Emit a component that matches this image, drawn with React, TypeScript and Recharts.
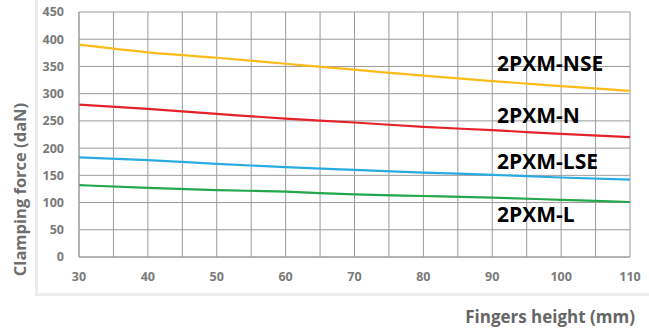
import React from 'react';
import { LineChart, Line, XAxis, YAxis, CartesianGrid, ReferenceDot, Label } from 'recharts';

const heights = [30, 40, 50, 60, 70, 80, 90, 100, 110];
const nse = [390, 376, 366, 355, 344, 333, 323, 314, 305];
const n = [280, 272, 263, 254, 247, 239, 233, 226, 220];
const lse = [183, 178, 171, 165, 160, 155, 151, 146, 142];
const l = [132, 127, 123, 120, 115, 112, 109, 105, 101];

const xTicks = [30, 40, 50, 60, 70, 80, 90, 100, 110];
const yTicks = [0, 50, 100, 150, 200, 250, 300, 350, 400, 450];
const xGrid = [30, 35, 40, 45, 50, 55, 60, 65, 70, 75, 80, 85, 90, 95, 100, 105, 110];
const yGrid = [0, 25, 50, 75, 100, 125, 150, 175, 200, 225, 250, 275, 300, 325, 350, 375, 400, 425, 450];

const seriesLabels = [
  { name: '2PXM-NSE', x: 90.7, y: 357 },
  { name: '2PXM-N', x: 90.7, y: 261 },
  { name: '2PXM-LSE', x: 90.7, y: 176 },
  { name: '2PXM-L', x: 90.7, y: 79 },
];

const data = heights.map((h, i) => ({ h, nse: nse[i], n: n[i], lse: lse[i], l: l[i] }));

const FONT = '"Open Sans", sans-serif';
const tickStyle = { fontFamily: FONT, fontWeight: 700, fontSize: 12.5, fill: '#7a7a7a' };

export default function App() {
  return (
    <div style={{ position: 'absolute', left: 0, top: 0, width: 649, height: 334, background: '#fff' }}>
      <div
        style={{
          position: 'absolute',
          left: 35,
          top: -3,
          width: 620,
          height: 296,
          borderLeft: '3px solid #ececec',
          borderBottom: '3px solid #ececec',
        }}
      />
      <div style={{ position: 'absolute', left: 0, top: 0, width: 649, height: 334 }}>
        <LineChart width={649} height={334} data={data} margin={{ top: 12, right: 19, bottom: 0, left: 0 }}>
          <CartesianGrid
            stroke="#9a9a9a"
            strokeWidth={1}
            horizontalValues={yGrid}
            verticalValues={xGrid}
          />
          <XAxis
            dataKey="h"
            type="number"
            domain={[30, 110]}
            ticks={xTicks}
            height={77}
            axisLine={{ stroke: '#9a9a9a' }}
            tickLine={false}
            tick={tickStyle}
            tickMargin={9}
          />
          <YAxis
            type="number"
            domain={[0, 450]}
            ticks={yTicks}
            width={79}
            axisLine={{ stroke: '#9a9a9a' }}
            tickLine={false}
            tick={tickStyle}
            tickMargin={9}
          >
            <Label
              value="Clamping force (daN)"
              position="insideLeft"
              content={(props: any) => {
                const vb = props.viewBox;
                const cx = 19;
                const cy = vb.y + vb.height / 2 + 55;
                return (
                  <text
                    x={cx}
                    y={cy}
                    transform={`rotate(-90 ${cx} ${cy})`}
                    textAnchor="middle"
                    dominantBaseline="central"
                    style={{ fontFamily: FONT, fontWeight: 700, fontSize: 16.5, fill: '#6e6e6e' }}
                  >
                    Clamping force (daN)
                  </text>
                );
              }}
            />
          </YAxis>
          <Line type="monotone" dataKey="nse" stroke="#fdbb1a" strokeWidth={2.2} dot={false} isAnimationActive={false} />
          <Line type="monotone" dataKey="n" stroke="#e5222a" strokeWidth={2.2} dot={false} isAnimationActive={false} />
          <Line type="monotone" dataKey="lse" stroke="#29abe2" strokeWidth={2.2} dot={false} isAnimationActive={false} />
          <Line type="monotone" dataKey="l" stroke="#23a64c" strokeWidth={2.2} dot={false} isAnimationActive={false} />
          {seriesLabels.map((s) => (
            <ReferenceDot
              key={s.name}
              x={s.x}
              y={s.y}
              r={0}
              fill="none"
              stroke="none"
              label={(props: any) => {
                const vb = props.viewBox;
                return (
                  <text
                    x={vb.x}
                    y={vb.y}
                    textAnchor="start"
                    dominantBaseline="central"
                    style={{ fontFamily: FONT, fontWeight: 700, fontSize: 21, fill: '#000' }}
                  >
                    {s.name}
                  </text>
                );
              }}
            />
          ))}
        </LineChart>
      </div>
      <div
        style={{
          position: 'absolute',
          left: 0,
          top: 307,
          width: 635,
          textAlign: 'right',
          fontFamily: FONT,
          fontWeight: 700,
          fontSize: 17,
          color: '#666',
          lineHeight: '20px',
          whiteSpace: 'nowrap',
        }}
      >
        Fingers height (mm)
      </div>
    </div>
  );
}
